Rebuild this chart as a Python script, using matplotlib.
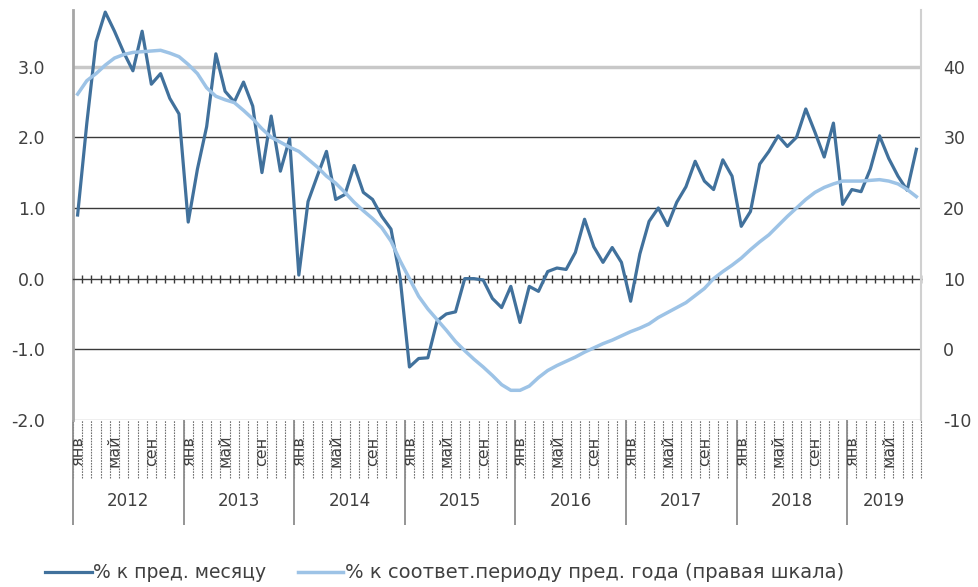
import numpy as np
import matplotlib
matplotlib.use('Agg')
import matplotlib.pyplot as plt
from matplotlib.lines import Line2D
import matplotlib.transforms as mtransforms

plt.rcParams['font.family'] = ['DejaVu Sans']
plt.rcParams['axes.unicode_minus'] = False

# data, monthly from Jan 2012 to Aug 2019
years = ['2012', '2013', '2014', '2015', '2016', '2017', '2018', '2019']
month_names = ['янв', 'фев', 'мар', 'апр', 'май', 'июн',
               'июл', 'авг', 'сен', 'окт', 'ноя', 'дек']

# % к пред. месяцу (left scale)
mom = [0.9, 2.2, 3.35, 3.77, 3.5, 3.2, 2.94, 3.5, 2.75, 2.9, 2.55, 2.33,
       0.8, 1.55, 2.15, 3.18, 2.65, 2.5, 2.78, 2.44, 1.5, 2.3, 1.52, 1.98,
       0.05, 1.09, 1.45, 1.8, 1.12, 1.19, 1.6, 1.22, 1.12, 0.88, 0.7, 0.0,
       -1.25, -1.13, -1.12, -0.6, -0.5, -0.47, 0.0, 0.0, -0.02, -0.28, -0.41, -0.11,
       -0.62, -0.11, -0.18, 0.1, 0.15, 0.13, 0.37, 0.84, 0.45, 0.23, 0.44, 0.23,
       -0.32, 0.35, 0.81, 1.0, 0.75, 1.08, 1.3, 1.66, 1.38, 1.26, 1.68, 1.45,
       0.74, 0.95, 1.62, 1.8, 2.02, 1.87, 2.0, 2.4, 2.07, 1.72, 2.2, 1.05,
       1.26, 1.23, 1.55, 2.02, 1.7, 1.45, 1.25, 1.83]

# % к соответ. периоду пред. года (right scale)
yoy = [36.1, 38.0, 39.0, 40.2, 41.2, 41.7, 42.0, 42.1, 42.2, 42.3, 41.9, 41.4,
       40.3, 39.0, 37.0, 35.8, 35.3, 34.9, 33.8, 32.6, 31.2, 30.0, 29.3, 28.6,
       28.0, 26.9, 25.8, 24.5, 23.5, 22.2, 20.8, 19.6, 18.5, 17.2, 15.3, 12.5,
       10.0, 7.5, 5.7, 4.2, 2.7, 1.1, -0.2, -1.4, -2.5, -3.7, -5.0, -5.8,
       -5.8, -5.2, -4.0, -3.0, -2.3, -1.7, -1.1, -0.4, 0.2, 0.8, 1.3, 1.9,
       2.5, 3.0, 3.6, 4.5, 5.2, 5.9, 6.6, 7.6, 8.6, 10.0, 11.0, 11.9,
       12.9, 14.1, 15.2, 16.2, 17.5, 18.8, 20.0, 21.2, 22.2, 22.9, 23.4, 23.8,
       23.8, 23.8, 23.9, 24.0, 23.8, 23.4, 22.6, 21.6]

dark = '#41719c'
light = '#9dc3e6'
grey_txt = '#404040'

n = len(mom)
x = np.arange(n) + 0.5

W, H = 979, 587
fig = plt.figure(figsize=(W / 100, H / 100), dpi=100)
ax = fig.add_axes([73 / W, 1 - 420 / H, (921 - 73) / W, (420 - 10) / H])
ax2 = ax.twinx()

ax.set_xlim(0, n)
ax.set_ylim(-2.0, 3.8)
ax2.set_ylim(-10, 48)

# horizontal grid
ax.axhline(3.0, color='#c8c8c8', lw=2.5, zorder=1)
for v in [2.0, 1.0, -1.0]:
    ax.axhline(v, color='#3a3a3a', lw=1.0, zorder=1)
ax.axhline(-2.0, color='#b0b0b0', lw=1.0, zorder=1)

# category axis crossing at 0 with tick marks at every month
ax.spines['bottom'].set_position(('data', 0))
ax.spines['bottom'].set_color('#3a3a3a')
ax.spines['bottom'].set_linewidth(1.0)
ax.set_xticks(np.arange(0, n + 1))
ax.tick_params(axis='x', direction='inout', length=6, width=1.0,
               color='#3a3a3a', labelbottom=False)

for a in (ax, ax2):
    a.spines['top'].set_visible(False)
ax2.spines['bottom'].set_visible(False)
ax.spines['right'].set_visible(False)
ax.spines['left'].set_color('#a6a6a6')
ax.spines['left'].set_linewidth(2.0)
ax2.spines['left'].set_visible(False)
ax2.spines['right'].set_color('#d0d0d0')
ax2.spines['right'].set_linewidth(1.5)

ax.set_yticks([-2, -1, 0, 1, 2, 3])
ax.set_yticklabels(['%.1f' % v for v in [-2, -1, 0, 1, 2, 3]])
ax.tick_params(axis='y', length=0, pad=20, labelsize=12.5, labelcolor=grey_txt)
ax2.set_yticks([-10, 0, 10, 20, 30, 40])
ax2.tick_params(axis='y', length=0, pad=16, labelsize=12.5, labelcolor=grey_txt)

# lines
ax.plot(x, mom, color=dark, lw=2.3, zorder=3)
ax2.plot(x, yoy, color=light, lw=2.5, zorder=3)

# multi-level category labels below the plot
trans = mtransforms.blended_transform_factory(ax.transData, ax.transAxes)
ax.vlines(np.arange(0, n + 1), -0.142, 0, transform=trans, colors='#707070',
          lw=0.8, linestyles=(0, (1.5, 1.0)), clip_on=False)
ax.vlines(np.arange(0, n, 12), -0.256, 0, transform=trans, colors='#8c8c8c',
          lw=1.3, clip_on=False)
for i in range(0, n, 4):
    ax.text(i + 0.5, -0.076, month_names[i % 12], transform=trans, rotation=90,
            ha='center', va='center', fontsize=11.5, color=grey_txt)
for k, yr in enumerate(years):
    end = min(12 * (k + 1), n)
    ax.text((12 * k + end) / 2, -0.198, yr, transform=trans, ha='center',
            va='center', fontsize=12, color=grey_txt)

# legend
ly = 1 - 572 / H
fig.add_artist(Line2D([45 / W, 92 / W], [ly, ly], color=dark, lw=2.3))
fig.text(93 / W, ly, '% к пред. месяцу', fontsize=13.5, color=grey_txt, va='center')
fig.add_artist(Line2D([298 / W, 343 / W], [ly, ly], color=light, lw=2.5))
fig.text(345 / W, ly, '% к соответ.периоду пред. года (правая шкала)',
         fontsize=14, color=grey_txt, va='center')

fig.savefig('out.png', dpi=100)
